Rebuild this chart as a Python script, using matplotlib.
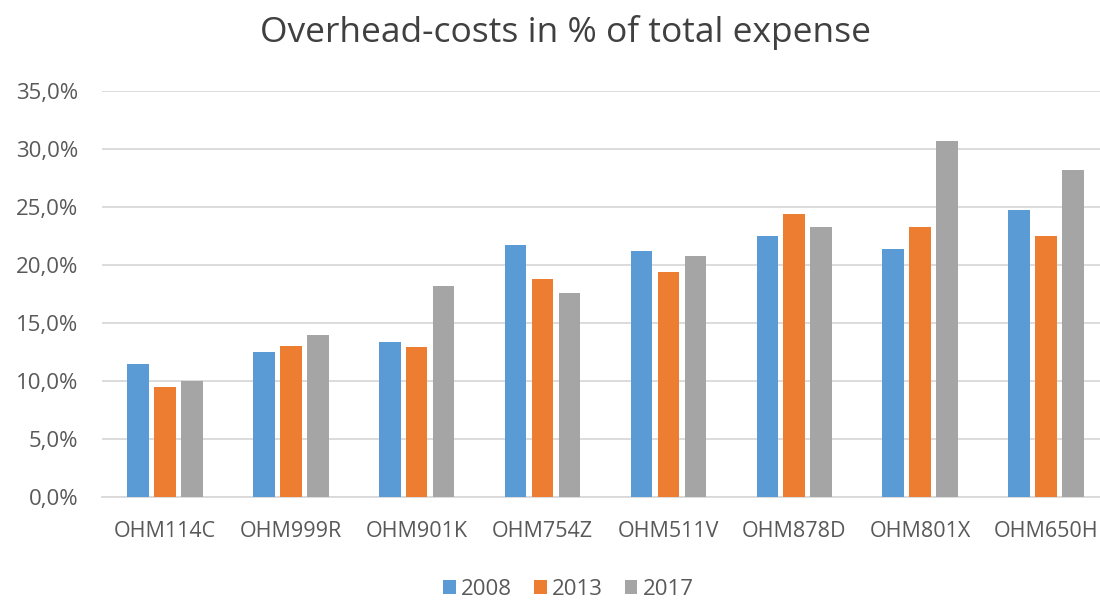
import matplotlib
matplotlib.use("Agg")
import matplotlib.pyplot as plt
import numpy as np
from matplotlib.ticker import FuncFormatter

categories = ["OHM114C", "OHM999R", "OHM901K", "OHM754Z", "OHM511V", "OHM878D", "OHM801X", "OHM650H"]
years = ["2008", "2013", "2017"]
v2008 = [11.5, 12.5, 13.4, 21.7, 21.2, 22.5, 21.4, 24.7]
v2013 = [9.5, 13.0, 12.9, 18.8, 19.4, 24.4, 23.3, 22.5]
v2017 = [10.0, 14.0, 18.2, 17.6, 20.8, 23.3, 30.7, 28.2]
colors = ["#5B9BD5", "#ED7D31", "#A5A5A5"]

plt.rcParams['font.family'] = ['Open Sans', 'DejaVu Sans']

fig = plt.figure(figsize=(11, 6.05), dpi=100)
ax = fig.add_axes([0.0927, 0.1785, 0.9155, 0.6711])

x = np.arange(len(categories))
step = 0.214
width = 0.172
for i, (vals, lab) in enumerate(zip([v2008, v2013, v2017], years)):
    ax.bar(x + (i - 1) * step, vals, width, color=colors[i], label=lab, zorder=3)

ax.set_xlim(-0.5, len(categories) - 0.5)
ax.set_ylim(0, 35)
ax.set_yticks(np.arange(0, 35.1, 5))
ax.yaxis.set_major_formatter(FuncFormatter(lambda v, p: f"{v:.1f}%".replace(".", ",")))
ax.set_xticks(x)
ax.set_xticklabels(categories)
ax.grid(axis='y', color='#D9D9D9', linewidth=1.3, zorder=0)
for s in ['top', 'right', 'left']:
    ax.spines[s].set_visible(False)
ax.spines['bottom'].set_color('#D9D9D9')
ax.spines['bottom'].set_linewidth(1.3)
ax.tick_params(axis='both', length=0, colors='#595959')
ax.tick_params(axis='x', pad=17, labelsize=15.5)
ax.tick_params(axis='y', pad=17, labelsize=16)

fig.text(0.5145, 0.947, "Overhead-costs in % of total expense", ha='center', va='center',
         fontsize=25.5, color='#404040')

leg = fig.legend(loc='center', bbox_to_anchor=(0.517, 0.026), ncol=3, frameon=False,
                 fontsize=16, handlelength=0.55, handleheight=0.55, handletextpad=0.25,
                 columnspacing=1.0, labelcolor='#595959', borderpad=0.1)

fig.savefig("out.png", dpi=100)
